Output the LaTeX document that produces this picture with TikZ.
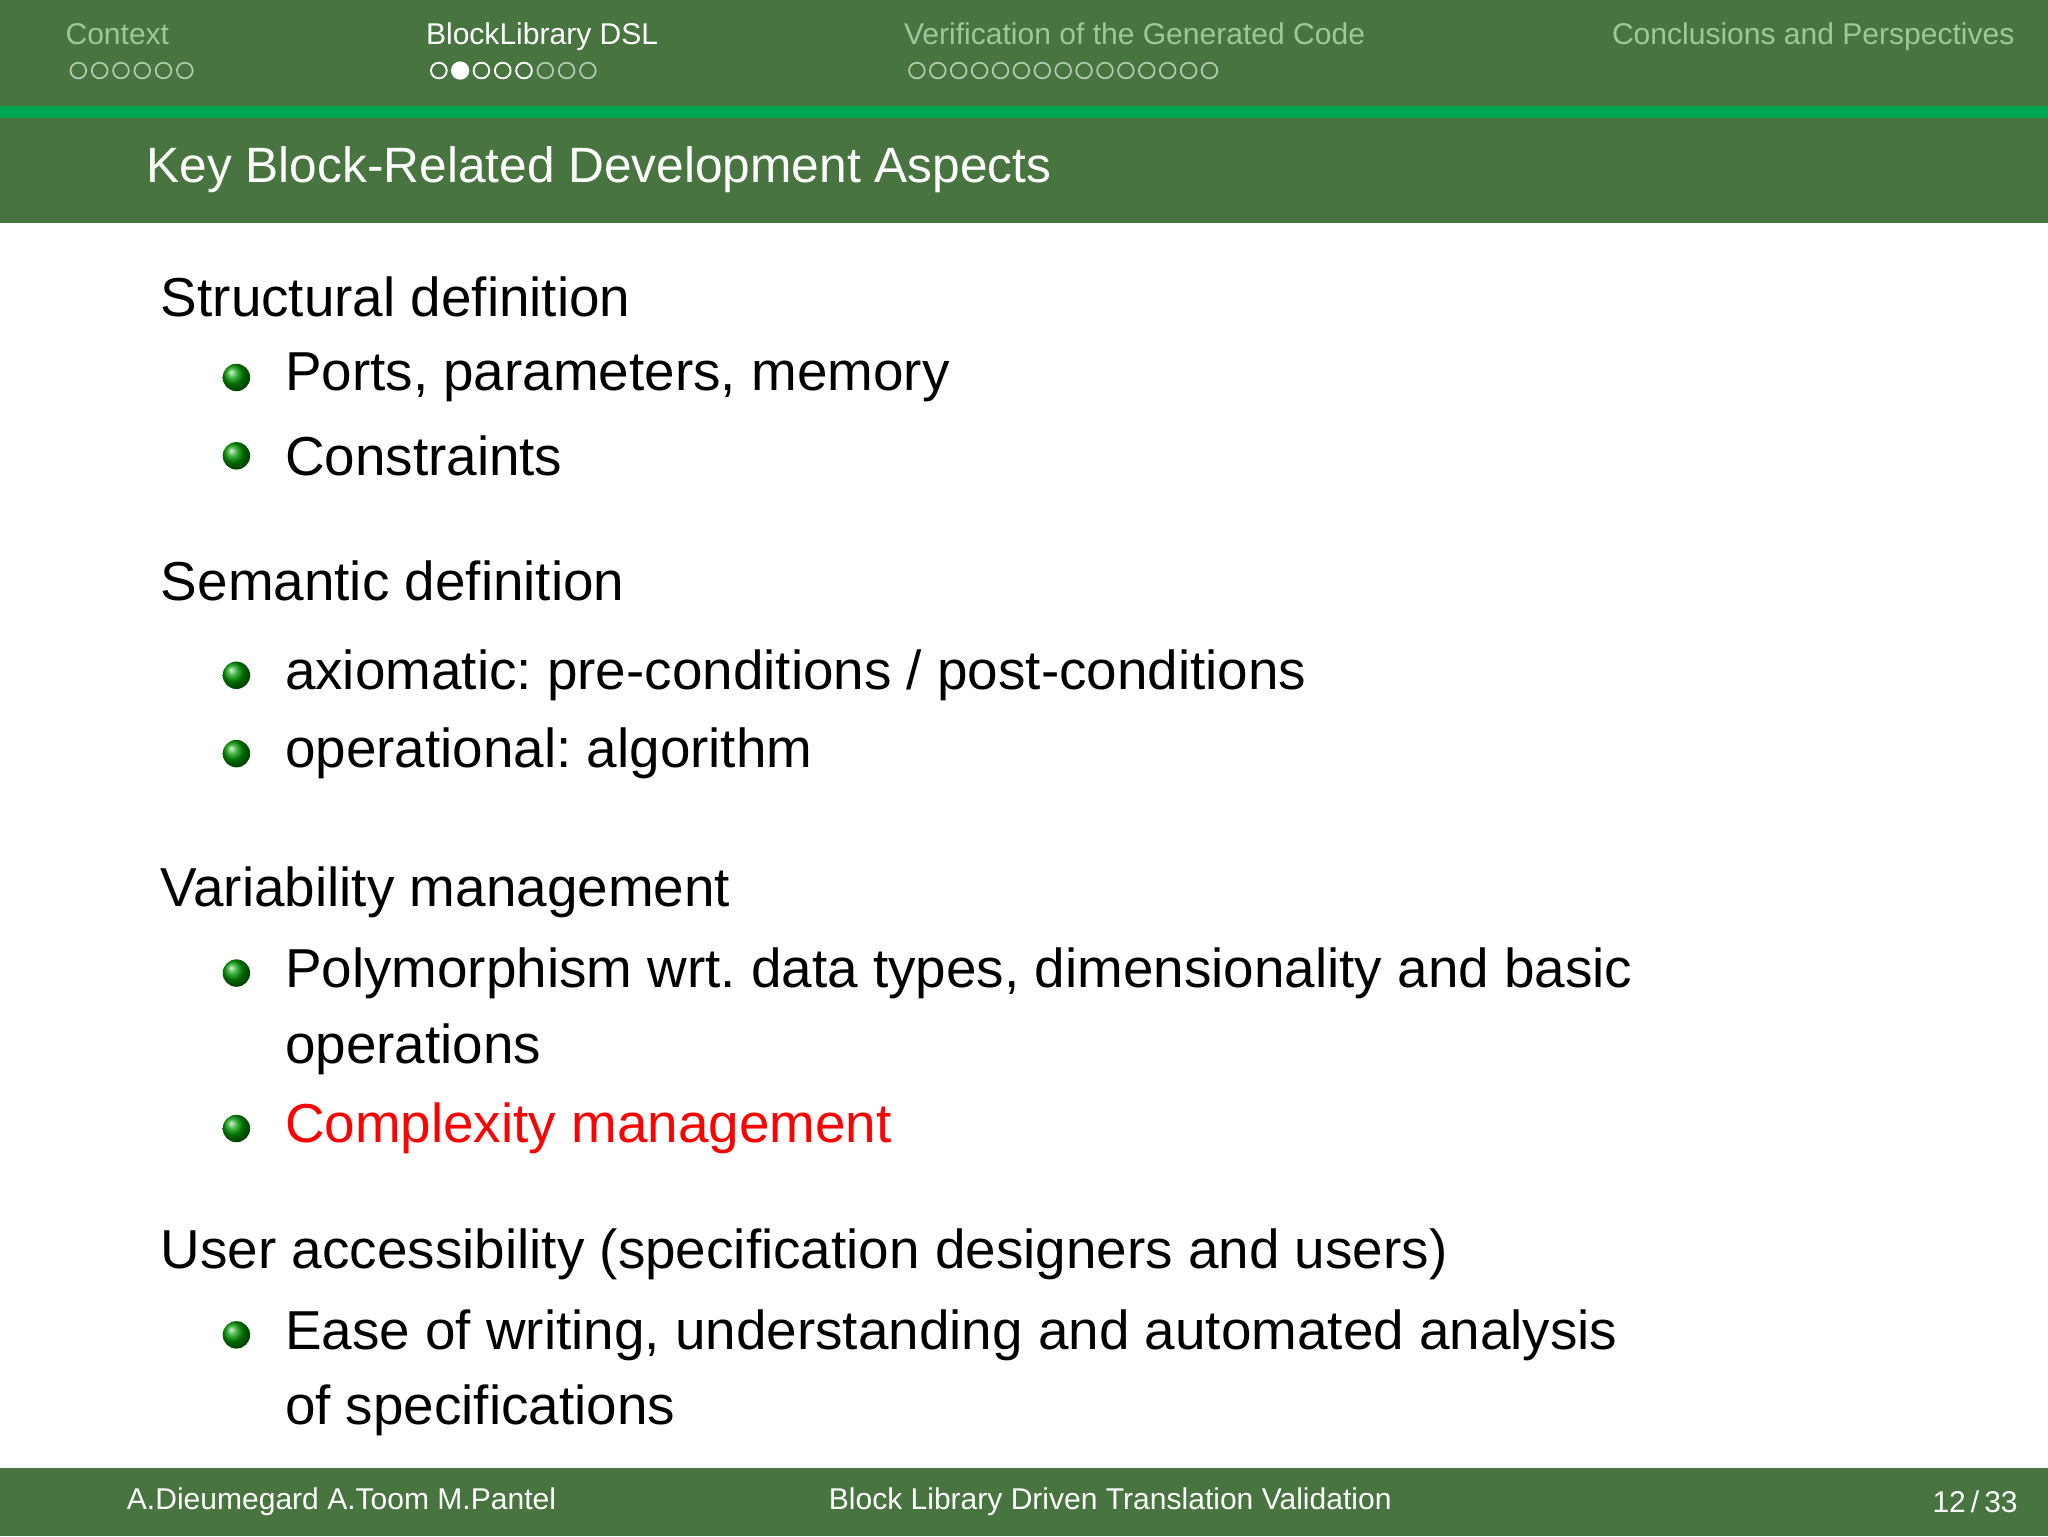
\documentclass[tikz,border=0pt]{standalone}
\usepackage{fontspec}
\setmainfont{Liberation Sans}
\frenchspacing
\begin{document}
\begin{tikzpicture}[x=1pt,y=-1pt,
  nav/.style={anchor=base west,font=\fontsize{23}{26}\selectfont,text=green!30!gray!60!white},
  navdot/.style={draw=green!20!gray!50!white,line width=1.3pt},
  head/.style={anchor=west,font=\fontsize{42}{48}\selectfont,inner sep=0},
  item/.style={anchor=west,font=\fontsize{42}{48}\selectfont,inner sep=0},
  foot/.style={font=\fontsize{23}{26}\selectfont,text=white,inner sep=0}]
\definecolor{dg}{HTML}{48743F}
\definecolor{lg}{HTML}{00A651}
\useasboundingbox (0,0) rectangle (1568,1176);
\fill[white] (0,0) rectangle (1568,1176);
\fill[dg] (0,0) rectangle (1568,81);
\fill[lg] (0,81) rectangle (1568,90);
\fill[dg] (0,90) rectangle (1568,171);
\fill[dg] (0,1124) rectangle (1568,1176);
\node[nav,inner sep=0] (n1) at (50,34) {Context};
\node[nav,inner sep=0,text=white] (n2) at (326,34) {BlockLibrary DSL};
\node[nav,inner sep=0] (n3) at (692,34) {Verification of the Generated Code};
\node[nav,inner sep=0] (n4) at (1234,34) {Conclusions and Perspectives};
\foreach \i in {0,...,5} \draw[navdot] (60+\i*16.3,54) circle (6);
\foreach \i in {0,...,7} \draw[navdot] (336+\i*16.3,54) circle (6);
\draw[navdot,draw=white] (336,54) circle (6);
\fill[white] (352.3,54) circle (7);
\foreach \i in {2,...,4} \draw[navdot,draw=white] (336+\i*16.3,54) circle (6);
\foreach \i in {0,...,14} \draw[navdot] (702+\i*16,54) circle (6);
\node[anchor=west,text=white,font=\fontsize{38}{44}\selectfont,inner sep=0] (title) at (112,130) {Key Block-Related Development Aspects};
\node[head] (h1) at (123,227) {Structural definition};
\node[item] (i1) at (218,289) {Ports, parameters, memory};
\node[item] (i2) at (218,349) {Constraints};
\node[head] (h2) at (123,445) {Semantic definition};
\node[item] (i3) at (218,517) {axiomatic: pre-conditions / post-conditions};
\node[item] (i4) at (218,577) {operational: algorithm};
\node[head] (h3) at (123,683) {Variability management};
\node[item] (i5) at (218,745) {Polymorphism wrt. data types, dimensionality and basic};
\node[item] (i5b) at (218,803) {operations};
\node[item,text=red] (i6) at (218,864) {Complexity management};
\node[head] (h4) at (123,960) {User accessibility (specification designers and users)};
\node[item] (i7) at (218,1022) {Ease of writing, understanding and automated analysis};
\node[item] (i7b) at (218,1080) {of specifications};
\foreach \y in {289,349,517,577,745,864,1022}
  \shade[ball color=green!60!black] (181,\y) circle (10.5);
\node[foot,anchor=west] (f1) at (97,1150) {A.Dieumegard A.Toom M.Pantel};
\node[foot] (f2) at (850,1150) {Block Library Driven Translation Validation};
\node[foot,anchor=east] (f3) at (1545,1150) {12\,/\,33};
\end{tikzpicture}
\end{document}
